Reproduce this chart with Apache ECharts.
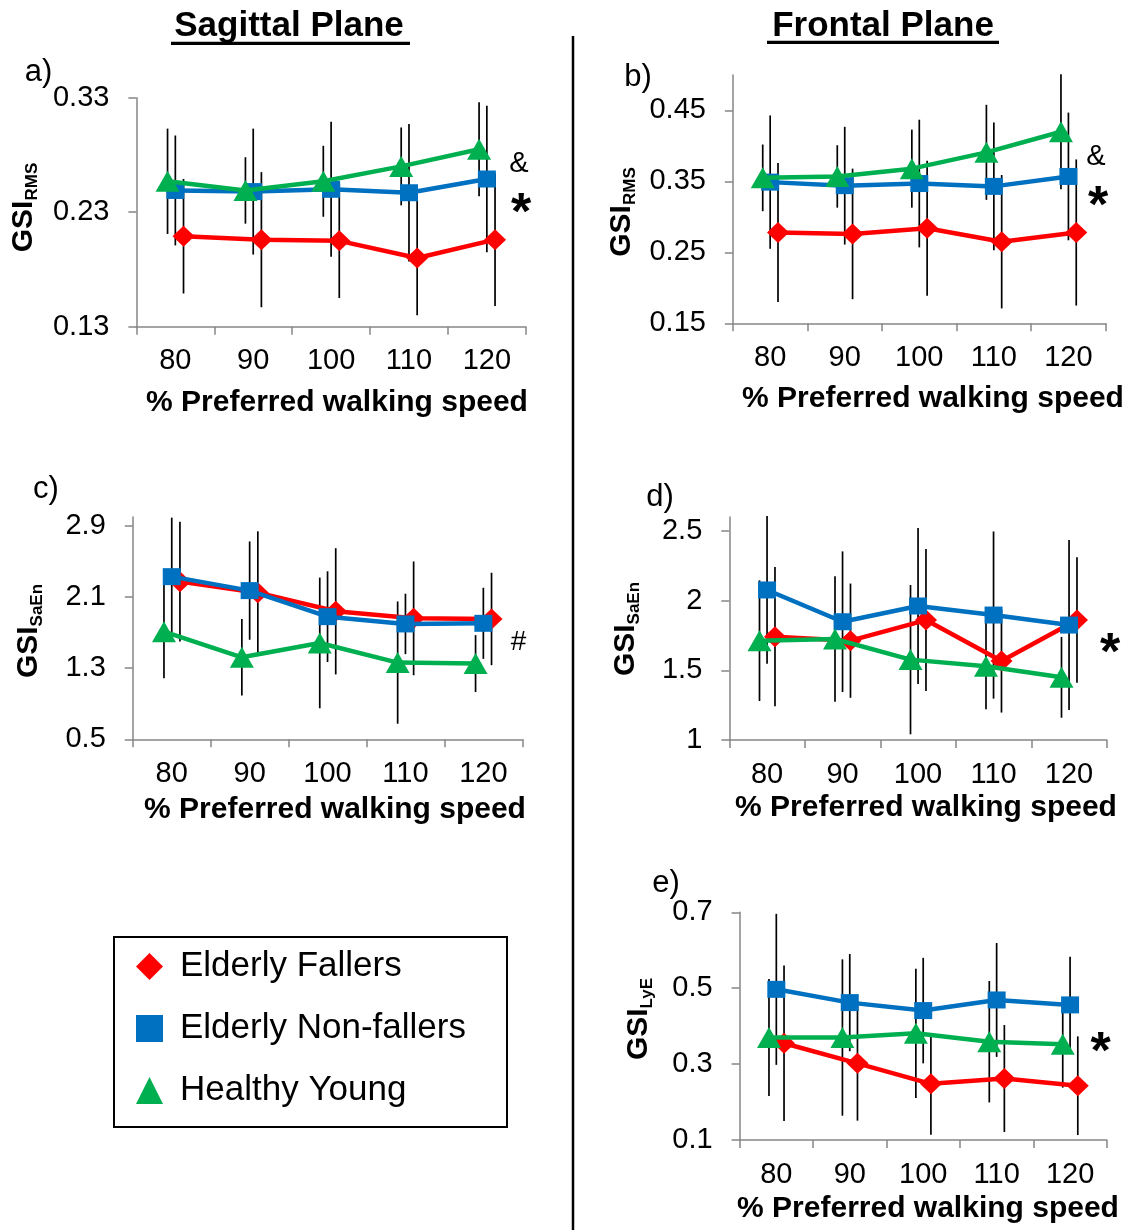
<!DOCTYPE html>
<html>
<head>
<meta charset="utf-8">
<script src="https://cdn.jsdelivr.net/npm/echarts@6/dist/echarts.min.js"></script>
<style>
html,body{margin:0;padding:0;background:#fff;}
#chart{width:1137px;height:1230px;}
</style>
</head>
<body>
<div id="chart"></div>
<script>
// ---------------- data ----------------
const speeds = [80, 90, 100, 110, 120];
const groupNames = ['Elderly Fallers', 'Elderly Non-fallers', 'Healthy Young'];

// a) Sagittal GSI_RMS
const aEF = [0.209, 0.206, 0.205, 0.190, 0.206];
const aEF_sd = [0.050, 0.059, 0.050, 0.050, 0.058];
const aENF = [0.249, 0.248, 0.250, 0.247, 0.259];
const aENF_sd = [0.048, 0.055, 0.059, 0.060, 0.064];
const aHY = [0.257, 0.249, 0.257, 0.270, 0.285];
const aHY_sd = [0.046, 0.029, 0.031, 0.034, 0.041];
const aTicks = [0.13, 0.23, 0.33];

// b) Frontal GSI_RMS
const bEF = [0.278, 0.276, 0.284, 0.265, 0.278];
const bEF_sd = [0.098, 0.092, 0.095, 0.094, 0.103];
const bENF = [0.349, 0.344, 0.347, 0.343, 0.357];
const bENF_sd = [0.094, 0.083, 0.090, 0.090, 0.090];
const bHY = [0.355, 0.357, 0.368, 0.391, 0.420];
const bHY_sd = [0.047, 0.044, 0.055, 0.067, 0.081];
const bTicks = [0.15, 0.25, 0.35, 0.45];

// c) Sagittal GSI_SaEn
const cEF = [2.274, 2.150, 1.940, 1.861, 1.854];
const cEF_sd = [0.675, 0.690, 0.710, 0.640, 0.520];
const cENF = [2.330, 2.173, 1.880, 1.798, 1.805];
const cENF_sd = [0.664, 0.553, 0.510, 0.340, 0.400];
const cHY = [1.711, 1.423, 1.584, 1.363, 1.352];
const cHY_sd = [0.525, 0.430, 0.735, 0.688, 0.320];
const cTicks = [0.5, 1.3, 2.1, 2.9];

// d) Frontal GSI_SaEn
const dEF = [1.742, 1.713, 1.861, 1.567, 1.861];
const dEF_sd = [0.500, 0.410, 0.510, 0.370, 0.450];
const dENF = [2.077, 1.849, 1.962, 1.897, 1.825];
const dENF_sd = [0.530, 0.505, 0.560, 0.600, 0.610];
const dHY = [1.713, 1.725, 1.577, 1.530, 1.450];
const dHY_sd = [0.433, 0.450, 0.536, 0.310, 0.290];
const dTicks = [1, 1.5, 2, 2.5];

// e) Frontal GSI_LyE
const eEF = [0.355, 0.302, 0.248, 0.262, 0.243];
const eEF_sd = [0.205, 0.151, 0.134, 0.141, 0.130];
const eENF = [0.497, 0.462, 0.441, 0.469, 0.456];
const eENF_sd = [0.199, 0.128, 0.139, 0.150, 0.127];
const eHY = [0.370, 0.370, 0.381, 0.359, 0.352];
const eHY_sd = [0.154, 0.206, 0.170, 0.160, 0.114];
const eTicks = [0.1, 0.3, 0.5, 0.7];

const xTickBounds = [75, 85, 95, 105, 115, 125];

// ---------------- styles / layout ----------------
const FONT = '"Liberation Sans", Arial, Helvetica, sans-serif';
const AXIS_GRAY = '#868686';
const COLORS = ['#FF0000', '#0070C0', '#00B050'];
const SYMBOLS = ['diamond', 'rect', 'triangle'];
const SYMBOL_SIZES = [[22, 21], [18, 17], [24, 21]];
const X_OFFSETS = [1.05, 0, -1.0];

const panels = [
  { grid: {left: 136.4, top: 97.7, width: 389.4, height: 229}, min: 0.13, max: 0.33, ticks: aTicks, dec: 2,
    vals: [aEF, aENF, aHY], sds: [aEF_sd, aENF_sd, aHY_sd] },
  { grid: {left: 732.9, top: 75, width: 372.8, height: 248.3}, min: 0.15, max: 0.5, ticks: bTicks, dec: 2,
    vals: [bEF, bENF, bHY], sds: [bEF_sd, bENF_sd, bHY_sd] },
  { grid: {left: 132.8, top: 517.1, width: 389.5, height: 222.2}, min: 0.5, max: 3.0, ticks: cTicks, dec: 1,
    vals: [cEF, cENF, cHY], sds: [cEF_sd, cENF_sd, cHY_sd] },
  { grid: {left: 729.3, top: 517.1, width: 377.5, height: 222.9}, min: 1, max: 2.6, ticks: dTicks, dec: -1,
    vals: [dEF, dENF, dHY], sds: [dEF_sd, dENF_sd, dHY_sd] },
  { grid: {left: 739.6, top: 912.3, width: 367.2, height: 227.7}, min: 0.1, max: 0.7, ticks: eTicks, dec: 1,
    vals: [eEF, eENF, eHY], sds: [eEF_sd, eENF_sd, eHY_sd] }
];

const grids = [], xAxes = [], yAxes = [], series = [];
panels.forEach((p, i) => {
  grids.push(Object.assign({containLabel: false}, p.grid));
  xAxes.push({
    gridIndex: i, type: 'value', min: 75, max: 125,
    axisLine: {show: true, onZero: false, lineStyle: {color: AXIS_GRAY, width: 1.5}},
    axisTick: {show: true, customValues: xTickBounds, length: 8, lineStyle: {color: AXIS_GRAY, width: 1.5}},
    axisLabel: {customValues: speeds, margin: 20, fontSize: 29, color: '#000', fontFamily: FONT},
    splitLine: {show: false}
  });
  yAxes.push({
    gridIndex: i, type: 'value', min: p.min, max: p.max,
    axisLine: {show: true, onZero: false, lineStyle: {color: AXIS_GRAY, width: 1.5}},
    axisTick: {show: true, customValues: p.ticks, length: 8, lineStyle: {color: AXIS_GRAY, width: 1.5}},
    axisLabel: {customValues: p.ticks, margin: 27, fontSize: 29, color: '#000', fontFamily: FONT,
      formatter: v => p.dec >= 0 ? Number(v).toFixed(p.dec) : String(+Number(v).toFixed(2))},
    splitLine: {show: false}
  });
  // error bars
  const ebData = [];
  [0, 1, 2].forEach(g => {
    speeds.forEach((s, k) => ebData.push([s + X_OFFSETS[g], p.vals[g][k], p.sds[g][k]]));
  });
  series.push({
    type: 'custom', xAxisIndex: i, yAxisIndex: i, z: 1, silent: true,
    data: ebData, encode: {x: 0, y: 1},
    renderItem: (params, api) => {
      const x = api.value(0), m = api.value(1), s = api.value(2);
      const p1 = api.coord([x, m - s]), p2 = api.coord([x, m + s]);
      return {type: 'line', shape: {x1: p1[0], y1: p1[1], x2: p2[0], y2: p2[1]},
        style: {stroke: '#000', lineWidth: 1.7}};
    }
  });
  [0, 1, 2].forEach(g => {
    series.push({
      type: 'line', name: groupNames[g], xAxisIndex: i, yAxisIndex: i, z: 2 + g,
      data: speeds.map((s, k) => [s + X_OFFSETS[g], p.vals[g][k]]),
      symbol: SYMBOLS[g], symbolSize: SYMBOL_SIZES[g], showSymbol: true,
      itemStyle: {color: COLORS[g], opacity: 1},
      lineStyle: {color: COLORS[g], width: 4.5},
      emphasis: {disabled: true}
    });
  });
});

function txt(x, y, text, size, weight, extra) {
  return Object.assign({type: 'text', x: x, y: y, silent: true,
    style: {text: text, fontSize: size, fontWeight: weight || 'normal', fontFamily: FONT, fill: '#000',
      align: 'center', verticalAlign: 'middle'}}, extra || {});
}
function ytitle(x, y, sub) {
  return {type: 'text', x: x, y: y, rotation: Math.PI / 2, silent: true,
    style: {text: '{m|GSI}{s|' + sub + '}', align: 'center', verticalAlign: 'middle', fill: '#000',
      rich: {
        m: {fontSize: 30, fontWeight: 'bold', fontFamily: FONT, lineHeight: 34, fill: '#000'},
        s: {fontSize: 17, fontWeight: 'bold', fontFamily: FONT, lineHeight: 11, verticalAlign: 'bottom', fill: '#000'}
      }}};
}
const XT = '% Preferred walking speed';
const graphics = [
  // column titles
  txt(289, 26, 'Sagittal Plane', 35, 'bold'),
  {type: 'line', silent: true, shape: {x1: 171, y1: 43.3, x2: 410, y2: 43.3}, style: {stroke: '#000', lineWidth: 3.2}},
  txt(883, 26, 'Frontal Plane', 35, 'bold'),
  {type: 'line', silent: true, shape: {x1: 767, y1: 42.3, x2: 999, y2: 42.3}, style: {stroke: '#000', lineWidth: 3.2}},
  // divider
  {type: 'line', silent: true, shape: {x1: 573, y1: 36, x2: 573, y2: 1230}, style: {stroke: '#000', lineWidth: 2.5}},
  // panel letters
  txt(38.5, 72, 'a)', 31), txt(638, 77, 'b)', 31), txt(46, 489, 'c)', 31),
  txt(660, 497, 'd)', 31), txt(666, 883, 'e)', 31),
  // y titles
  ytitle(24, 207.5, 'RMS'), ytitle(622, 212, 'RMS'), ytitle(28.5, 631, 'SaEn'),
  ytitle(626, 629, 'SaEn'), ytitle(639, 1019, 'LyE'),
  // x titles
  txt(337, 403, XT, 30, 'bold'), txt(933, 399, XT, 30, 'bold'), txt(335, 810, XT, 30, 'bold'),
  txt(926, 808, XT, 30, 'bold'), txt(928, 1209, XT, 30, 'bold'),
  // significance marks
  txt(519, 164, '&', 29), txt(521, 215, '*', 52, 'bold'),
  txt(1096, 157, '&', 29), txt(1098, 208, '*', 52, 'bold'),
  txt(518.6, 642, '#', 28),
  txt(1110, 655, '*', 52, 'bold'),
  txt(1100.5, 1054, '*', 52, 'bold'),
  // legend box
  {type: 'rect', silent: true, shape: {x: 114, y: 937, width: 393, height: 190},
    style: {fill: 'none', stroke: '#000', lineWidth: 2}}
];

const chart = echarts.init(document.getElementById('chart'), null, {renderer: 'canvas'});
chart.setOption({
  animation: false,
  backgroundColor: '#fff',
  textStyle: {fontFamily: FONT},
  grid: grids, xAxis: xAxes, yAxis: yAxes, series: series,
  legend: {
    show: true, orient: 'vertical', left: 136, top: 949, padding: 0,
    itemWidth: 27, itemHeight: 27, itemGap: 27, selectedMode: false,
    textStyle: {fontSize: 35, color: '#000', fontFamily: FONT, lineHeight: 35, padding: [0, 0, 0, 12]},
    data: [{name: groupNames[0], icon: 'diamond'}, {name: groupNames[1], icon: 'rect'}, {name: groupNames[2], icon: 'triangle'}]
  },
  graphic: graphics
});
</script>
</body>
</html>
